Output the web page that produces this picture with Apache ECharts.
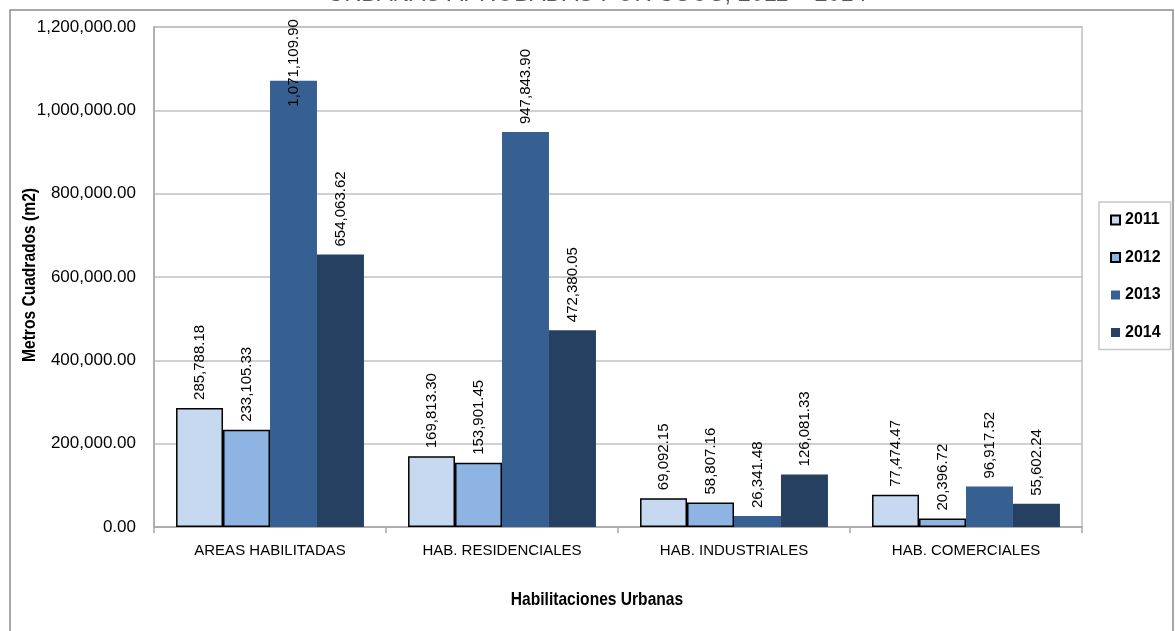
<!DOCTYPE html>
<html>
<head>
<meta charset="utf-8">
<script src="https://cdn.jsdelivr.net/npm/echarts@6/dist/echarts.min.js"></script>
<style>
html,body{margin:0;padding:0;background:#fff;}
#chart{width:1175px;height:631px;}
</style>
</head>
<body>
<div id="chart"></div>
<script>
var categories = ['AREAS HABILITADAS', 'HAB. RESIDENCIALES', 'HAB. INDUSTRIALES', 'HAB. COMERCIALES'];
var years = ['2011', '2012', '2013', '2014'];
var values2011 = [285788.18, 169813.30, 69092.15, 77474.47];
var values2012 = [233105.33, 153901.45, 58807.16, 20396.72];
var values2013 = [1071109.90, 947843.90, 26341.48, 96917.52];
var values2014 = [654063.62, 472380.05, 126081.33, 55602.24];
var yTicks = [0, 200000, 400000, 600000, 800000, 1000000, 1200000];

var FONT = "'Liberation Sans', Arial, sans-serif";
function fmt(v) {
  return Number(v).toLocaleString('en-US', {minimumFractionDigits: 2, maximumFractionDigits: 2});
}
var colors = ['#C6D9F1', '#8DB4E2', '#376092', '#254061'];
var bordered = [true, true, false, false];
var allValues = [values2011, values2012, values2013, values2014];
var yMax = yTicks[yTicks.length - 1];

function makeSeries(i) {
  var data = allValues[i].map(function (v) {
    var item = {value: v};
    // label that does not fit above the plot is pushed into the bar
    if (v / yMax > 0.85) {
      item.label = {position: ['50%', 26]};
    }
    return item;
  });
  return {
    name: years[i],
    type: 'bar',
    data: data,
    barGap: 0,
    barCategoryGap: '19%',
    itemStyle: {
      color: colors[i],
      borderColor: bordered[i] ? '#000' : colors[i],
      borderWidth: bordered[i] ? 1.5 : 0
    },
    label: {
      show: true,
      position: 'top',
      distance: 8,
      rotate: 90,
      align: 'left',
      verticalAlign: 'middle',
      fontFamily: FONT,
      fontSize: 15,
      color: '#000',
      formatter: function (p) { return fmt(p.value); }
    },
    emphasis: {disabled: true}
  };
}

var chart = echarts.init(document.getElementById('chart'), null, {renderer: 'canvas'});
chart.setOption({
  animation: false,
  textStyle: {fontFamily: FONT},
  grid: {
    left: 154, right: 93, top: 27, bottom: 104,
    show: true, borderColor: '#c0c0c0', borderWidth: 1.5, backgroundColor: 'transparent'
  },
  legend: {
    orient: 'vertical',
    left: 1099, top: 202,
    width: 72,
    padding: [8, 10, 7, 11],
    itemGap: 17.5,
    itemWidth: 9, itemHeight: 9,
    icon: 'rect',
    borderColor: '#c8c8c8', borderWidth: 1.5,
    textStyle: {fontFamily: FONT, fontSize: 16, fontWeight: 'bold', color: '#000', lineHeight: 20},
    data: years
  },
  xAxis: {
    type: 'category',
    data: categories,
    axisLine: {lineStyle: {color: '#a6a6a6', width: 1.5}},
    axisTick: {show: true, length: 6, lineStyle: {color: '#a6a6a6', width: 1.5}},
    axisLabel: {fontFamily: FONT, fontSize: 15, color: '#000', margin: 16, interval: 0},
    splitLine: {show: false}
  },
  yAxis: {
    type: 'value',
    min: 0, max: yMax, interval: 200000,
    axisLine: {show: true, lineStyle: {color: '#a6a6a6', width: 1.5}},
    axisTick: {show: false},
    axisLabel: {fontFamily: FONT, fontSize: 17, color: '#000', margin: 18,
      formatter: function (v) { return fmt(v); }},
    splitLine: {lineStyle: {color: '#c0c0c0', width: 1.5}}
  },
  graphic: [
    {type: 'rect', silent: true, z: -1, shape: {x: 10, y: 10, width: 1163, height: 660},
      style: {fill: 'none', stroke: '#8c8c8c', lineWidth: 1.5}},
    {type: 'text', silent: true, x: 597, y: -7, scaleX: 0.84,
      style: {text: 'URBANAS APROBADAS POR USOS, 2011 – 2014', fontFamily: FONT, fontSize: 28,
        fill: '#595959', align: 'center', verticalAlign: 'middle'}},
    {type: 'text', silent: true, x: 30, y: 275, rotation: Math.PI / 2, scaleX: 0.82,
      style: {text: 'Metros Cuadrados (m2)', fontFamily: FONT, fontSize: 19, fontWeight: 'bold',
        fill: '#000', align: 'center', verticalAlign: 'middle'}},
    {type: 'text', silent: true, x: 597, y: 600, scaleX: 0.82,
      style: {text: 'Habilitaciones Urbanas', fontFamily: FONT, fontSize: 19, fontWeight: 'bold',
        fill: '#000', align: 'center', verticalAlign: 'middle'}}
  ],
  series: [0, 1, 2, 3].map(makeSeries)
});
</script>
</body>
</html>
